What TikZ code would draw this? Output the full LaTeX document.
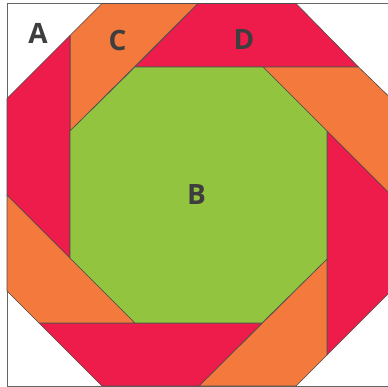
\documentclass[tikz,border=0pt]{standalone}
\usepackage{fontspec}
\setmainfont{Open Sans}
\usepackage{xcolor}
\definecolor{pinkred}{HTML}{EE1C4B}
\definecolor{tangerine}{HTML}{F3793C}
\definecolor{lime}{HTML}{92C43F}
\definecolor{ink}{HTML}{3E3E3E}
\begin{document}
\begin{tikzpicture}[x=1pt,y=-1pt,font=\fontsize{28}{30}\selectfont\bfseries,
  piece/.style={draw=black!70,line width=.6pt,line join=round},
  letter/.style={text=ink,inner sep=0pt}]
\useasboundingbox (0,0) rectangle (387,387);
% outer frame
\draw[black!60,line width=.8pt] (7,3.5) rectangle (390,386);
% pinwheel strips
\fill[piece,fill=tangerine] (102,3.5)--(198,3.5)--(70,131)--(70,35.5)--cycle;
\fill[piece,fill=pinkred] (198,3.5)--(296,3.5)--(358.5,67)--(135,67)--cycle;
\fill[piece,fill=tangerine] (263,67)--(358.5,67)--(390,97.5)--(390,194)--cycle;
\fill[piece,fill=pinkred] (327,131)--(390,194)--(390,292)--(327,355)--cycle;
\fill[piece,fill=tangerine] (327,259)--(327,355)--(296,386)--(199,386)--cycle;
\fill[piece,fill=pinkred] (39,323)--(262,323)--(199,386)--(102,386)--cycle;
\fill[piece,fill=tangerine] (7,195)--(135,323)--(39,323)--(7,291)--cycle;
\fill[piece,fill=pinkred] (70,35.5)--(70,258)--(7,195)--(7,98.5)--cycle;
% centre
\fill[piece,fill=lime] (135,67)--(263,67)--(327,131)--(327,259)--(262,323)--(135,323)--(70,258)--(70,131)--cycle;
\node[letter] (labA) at (38,33) {A};
\node[letter] (labC) at (117.5,40.5) {C};
\node[letter] (labD) at (244,39.5) {D};
\node[letter] (labB) at (196.5,195) {B};
\end{tikzpicture}
\end{document}
